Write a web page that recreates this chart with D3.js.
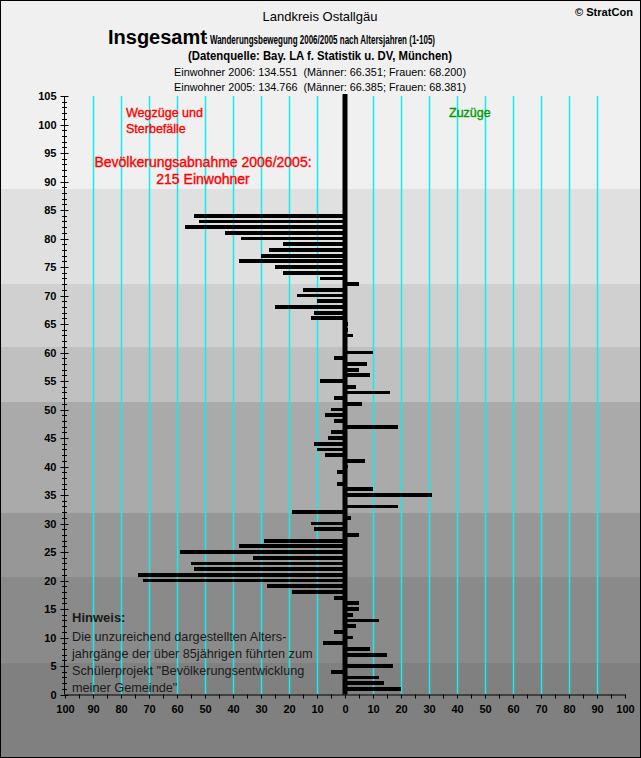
<!DOCTYPE html>
<html>
<head>
<meta charset="utf-8">
<script src="https://cdnjs.cloudflare.com/ajax/libs/d3/7.8.5/d3.min.js"></script>
<style>
body { margin: 0; background: #ffffff; }
svg text { font-family: Arial, 'Liberation Sans', sans-serif; }
</style>
</head>
<body>
<div id="chart"></div>
<script>
//ages 1..84 (no bars above 84)
var ages = d3.range(1, 85);

//net movement per age (Zuzüge positive, Wegzüge/Sterbefälle negative)
var saldo = [20, 14, 12, -5, 17, 0, 15, 9, -8, 3,
    -4, 4, 12, 3, 5, 5, -4, -19, -28, -72,
    -74, -54, -55, -33, -59, -38, -29, 5, -11, -12,
    2, -19, 19, 0, 31, 10, -3, 0, -3, 1,
    7, -7, -10, -11, -6, -5, 19, -4, -7, -5,
    6, -4, 16, 4, -9, 9, 5, 8, -4, 10,
    0, 0, 3, 1, 1, -12, -11, -25, -10, -17,
    -15, 5, -9, -22, -25, -38, -30, -27, -22, -37,
    -43, -57, -52, -54];

//tick labels
var yTicks = d3.range(0, 106, 5);
var gridValues = [-90, -80, -70, -60, -50, -40, -30, -20, -10, 10, 20, 30, 40, 50, 60, 70, 80, 90];

//background bands (age breaks, top to bottom) and their greys
var bandBreaks = [105, 88.7, 72, 60.9, 51.3, 31.8, 20.7, 5.6, 0];
var bandColors = ['#f0f0f0', '#e0e0e0', '#d0d0d0', '#c0c0c0', '#aaaaaa', '#979797', '#8a8a8a', '#808080'];

var width = 641;
var height = 758;

var svg = d3
    .select('#chart')
    .append('svg')
    .attr('width', width)
    .attr('height', height);

//scales
var xScale = d3.scaleLinear().domain([-100, 100]).range([65, 625]);
var yScale = d3.scaleLinear().domain([0, 105]).range([694.5, 96]);

//bands - first one runs up to the top, last one down to the bottom
svg.selectAll('rect.band')
    .data(bandColors)
    .enter()
    .append('rect')
    .attr('class', 'band')
    .attr('x', 0)
    .attr('width', width)
    .attr('y', function(d, i) {
        return i === 0 ? 0 : Math.round(yScale(bandBreaks[i]));
    })
    .attr('height', function(d, i) {
        var top = i === 0 ? 0 : Math.round(yScale(bandBreaks[i]));
        var bottom = i === bandColors.length - 1 ? height : Math.round(yScale(bandBreaks[i + 1]));
        return bottom - top;
    })
    .attr('fill', function(d) { return d; });

//cyan grid lines
var grid = svg.append('g').attr('class', 'gridlines');
grid.selectAll('line')
    .data(gridValues)
    .enter()
    .append('line')
    .attr('x1', function(d) { return Math.round(xScale(d)) + 0.5; })
    .attr('x2', function(d) { return Math.round(xScale(d)) + 0.5; })
    .attr('y1', yScale(105))
    .attr('y2', yScale(0))
    .style('stroke', '#10eef4')
    .style('stroke-width', '1.5px');

//bars
var barH = 3.8;
svg.selectAll('rect.bar')
    .data(ages)
    .enter()
    .append('rect')
    .attr('class', 'bar')
    .attr('x', function(d, i) { return xScale(Math.min(0, saldo[i])); })
    .attr('width', function(d, i) { return Math.abs(xScale(saldo[i]) - xScale(0)); })
    .attr('y', function(d) { return yScale(d) - barH / 2; })
    .attr('height', barH)
    .attr('fill', '#000000')
    .attr('shape-rendering', 'crispEdges');

//thick zero line
svg.append('rect')
    .attr('x', xScale(0) - 2.5)
    .attr('width', 5)
    .attr('y', yScale(105) - 2)
    .attr('height', yScale(0) - yScale(105) + 2)
    .attr('fill', '#000000');

//x axis
var xAxis = d3.axisBottom(xScale)
    .tickValues(d3.range(-100, 101, 5))
    .tickSize(4)
    .tickSizeOuter(0)
    .tickPadding(7)
    .tickFormat(function(d) { return d % 10 === 0 ? Math.abs(d) : ''; });

var gx = svg.append('g')
    .attr('transform', 'translate(0,' + yScale(0) + ')')
    .call(xAxis);
gx.selectAll('text')
    .attr('font-size', 11)
    .attr('font-weight', 'bold')
    .attr('fill', '#000');
gx.selectAll('line,path').attr('stroke', '#000');

//y axis - line, minor and major cross ticks, labels
var axisX = 64.5;
svg.append('line')
    .attr('x1', axisX).attr('x2', axisX)
    .attr('y1', yScale(105)).attr('y2', yScale(0))
    .attr('stroke', '#000');

svg.selectAll('line.ytick')
    .data(d3.range(0, 106))
    .enter()
    .append('line')
    .attr('class', 'ytick')
    .attr('x1', function(d) { return d % 5 === 0 ? axisX - 4 : axisX - 2.5; })
    .attr('x2', function(d) { return d % 5 === 0 ? axisX + 4 : axisX + 2.5; })
    .attr('y1', function(d) { return Math.round(yScale(d)) + 0.5; })
    .attr('y2', function(d) { return Math.round(yScale(d)) + 0.5; })
    .attr('stroke', '#000');

var yAxis = d3.axisLeft(yScale)
    .tickValues(yTicks)
    .tickSize(0)
    .tickPadding(8);

var gy = svg.append('g')
    .attr('transform', 'translate(' + axisX + ',0)')
    .call(yAxis);
gy.select('.domain').remove();
gy.selectAll('text')
    .attr('font-size', 11)
    .attr('font-weight', 'bold')
    .attr('fill', '#000');

//header texts
svg.append('text')
    .attr('x', 320).attr('y', 21)
    .attr('text-anchor', 'middle')
    .attr('font-size', 13)
    .text('Landkreis Ostallgäu');

svg.append('text')
    .attr('x', 633).attr('y', 16)
    .attr('text-anchor', 'end')
    .attr('font-size', 11)
    .attr('font-weight', 'bold')
    .attr('textLength', 58)
    .attr('lengthAdjust', 'spacingAndGlyphs')
    .text('© StratCon');

svg.append('text')
    .attr('x', 108).attr('y', 44)
    .attr('font-size', 20)
    .attr('font-weight', 'bold')
    .text('Insgesamt');

svg.append('text')
    .attr('x', 205).attr('y', 44)
    .attr('font-size', 12.5)
    .attr('font-weight', 'bold')
    .attr('textLength', 230)
    .attr('lengthAdjust', 'spacingAndGlyphs')
    .text(': Wanderungsbewegung 2006/2005 nach Altersjahren (1-105)');

svg.append('text')
    .attr('x', 188).attr('y', 60)
    .attr('font-size', 12.5)
    .attr('font-weight', 'bold')
    .attr('textLength', 264)
    .attr('lengthAdjust', 'spacingAndGlyphs')
    .text('(Datenquelle: Bay. LA f. Statistik u. DV, München)');

var infoLines = [
    'Einwohner 2006: 134.551\u00a0 (Männer: 66.351; Frauen: 68.200)',
    'Einwohner 2005: 134.766\u00a0 (Männer: 66.385; Frauen: 68.381)'
];
svg.selectAll('text.info')
    .data(infoLines)
    .enter()
    .append('text')
    .attr('class', 'info')
    .attr('x', 174)
    .attr('y', function(d, i) { return 76 + i * 15; })
    .attr('font-size', 11.5)
    .attr('textLength', 292)
    .attr('lengthAdjust', 'spacingAndGlyphs')
    .text(function(d) { return d; });

//annotation texts in the plot (thin stroke to mimic the heavier screen rendering)
function note(x, y, size, color, anchor, txt) {
    svg.append('text')
        .attr('x', x).attr('y', y)
        .attr('text-anchor', anchor)
        .attr('font-size', size)
        .attr('fill', color)
        .attr('stroke', color)
        .attr('stroke-width', 0.35)
        .text(txt);
}
note(126, 117, 12.5, '#ff0000', 'start', 'Wegzüge und');
note(126, 133, 12.5, '#ff0000', 'start', 'Sterbefälle');
note(203, 167, 14, '#ff0000', 'middle', 'Bevölkerungsabnahme 2006/2005:');
note(203, 184, 14, '#ff0000', 'middle', '215 Einwohner');
note(449, 117, 12.5, '#009900', 'start', 'Zuzüge');

//Hinweis block
svg.append('text')
    .attr('x', 72).attr('y', 622)
    .attr('font-size', 13)
    .attr('font-weight', 'bold')
    .attr('fill', '#1a1a1a')
    .text('Hinweis:');

var noteLines = [
    'Die unzureichend dargestellten Alters-',
    'jahrgänge der über 85jährigen führten zum',
    'Schülerprojekt "Bevölkerungsentwicklung',
    'meiner Gemeinde"'
];
svg.selectAll('text.note')
    .data(noteLines)
    .enter()
    .append('text')
    .attr('class', 'note')
    .attr('x', 72)
    .attr('y', function(d, i) { return 641 + i * 17; })
    .attr('font-size', 12.7)
    .attr('fill', '#1a1a1a')
    .text(function(d) { return d; });

//outer frame
svg.append('rect')
    .attr('x', 0.5).attr('y', 0.5)
    .attr('width', width - 1).attr('height', height - 1)
    .attr('fill', 'none')
    .attr('stroke', '#000');
</script>
</body>
</html>
